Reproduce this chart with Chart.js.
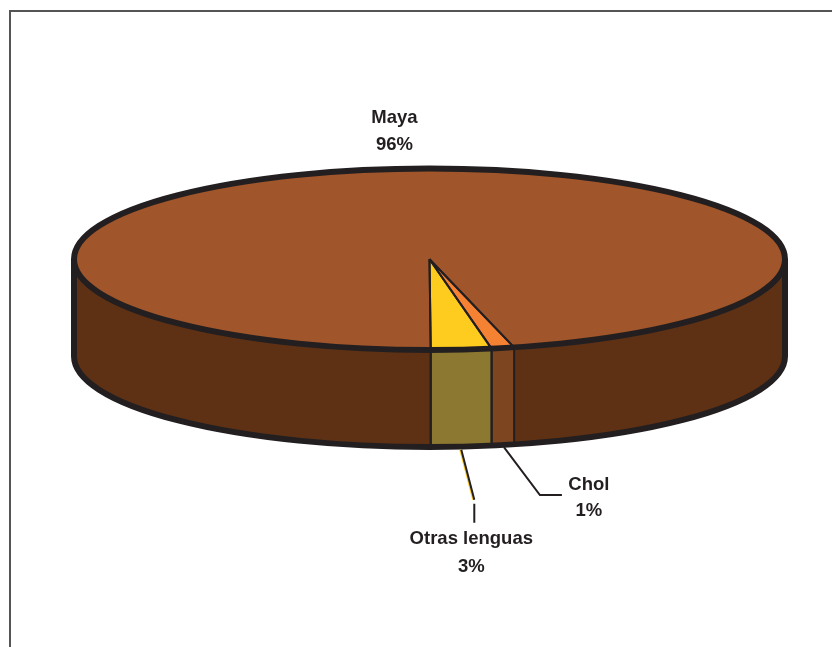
<!DOCTYPE html>
<html>
<head>
<meta charset="utf-8">
<title>Lenguas</title>
<script src="https://cdn.jsdelivr.net/npm/chart.js@4"></script>
<style>
    html, body { margin: 0; padding: 0; background: #fff; overflow: hidden; }
    #wrap { position: relative; width: 832px; height: 647px; }
    #frame { position: absolute; left: 9px; top: 10px; right: 0; bottom: 0; border-left: 2px solid #555; border-top: 2px solid #555; }
    #myChart { position: absolute; left: 0; top: 0; }
</style>
</head>
<body>
<div id="wrap">
    <div id="frame"></div>
    <canvas id="myChart" width="832" height="647"></canvas>
</div>
<script>
// DATA
const categories = ['Maya', 'Chol', 'Otras lenguas'];
const values = [96.23, 1.03, 2.74];
const percentLabels = ['96%', '1%', '3%'];

// COLORS
const topColors = ['#a0552a', '#f58233', '#fdcc1f'];
const wallColors = ['#5e3114', '#7d4520', '#8c7830'];
const lineColor = '#231f20';
const otrasLeaderColor = '#fdcc1f';

// 3D SHAPE
const squash = 90.75 / 355.5;
const depth = 97;

// LABEL PLACEMENT, offsets from the middle of each slice's rim
const labelStyle = [
    { dx: -35, dy: -141, gap: 27 },
    { dx: 86, dy: 40, gap: 26 },
    { dx: 10, dy: 92, gap: 28 }
];

// FUNCTIONS
function wallParts(arc) {
    // only the part of a slice facing the viewer has a wall
    let parts = [];
    for (let k = 0; k < 2; k++) {
        let from = Math.max(arc.startAngle, 2 * Math.PI * k);
        let to = Math.min(arc.endAngle, Math.PI + 2 * Math.PI * k);
        if (to > from) parts.push([from, to]);
    }
    return parts;
}

function rimPoint(arc, angle, ry, drop) {
    return {
        x: arc.x + arc.outerRadius * Math.cos(angle),
        y: arc.y + ry * Math.sin(angle) + drop
    };
}

const pie3d = {
    id: 'pie3d',
    beforeDatasetsDraw(chart) {
        let ctx = chart.ctx;
        let arcs = chart.getDatasetMeta(0).data;
        arcs.forEach((arc, i) => {
            let ry = arc.outerRadius * squash;
            wallParts(arc).forEach(part => {
                ctx.beginPath();
                ctx.ellipse(arc.x, arc.y, arc.outerRadius, ry, 0, part[0], part[1]);
                ctx.ellipse(arc.x, arc.y + depth, arc.outerRadius, ry, 0, part[1], part[0], true);
                ctx.closePath();
                ctx.fillStyle = wallColors[i];
                ctx.fill();
            });
        });
        // flatten the slices the library draws next
        let first = arcs[0];
        ctx.save();
        ctx.translate(first.x, first.y);
        ctx.scale(1, squash);
        ctx.translate(-first.x, -first.y);
    },
    afterDatasetsDraw(chart) {
        let ctx = chart.ctx;
        ctx.restore();
        let arcs = chart.getDatasetMeta(0).data;
        let first = arcs[0];
        let r = first.outerRadius;
        let ry = r * squash;
        ctx.strokeStyle = lineColor;
        ctx.lineCap = 'butt';
        ctx.lineJoin = 'miter';

        // slice edges on top and on the wall
        ctx.lineWidth = 2;
        arcs.forEach(arc => {
            [arc.startAngle, arc.endAngle].forEach(angle => {
                let p = rimPoint(arc, angle, ry, 0);
                ctx.beginPath();
                ctx.moveTo(arc.x, arc.y);
                ctx.lineTo(p.x, p.y);
                let a = ((angle % (2 * Math.PI)) + 2 * Math.PI) % (2 * Math.PI);
                if (a < Math.PI && arc !== first) {
                    ctx.moveTo(p.x, p.y);
                    ctx.lineTo(p.x, p.y + depth);
                }
                ctx.stroke();
            });
        });
        // wall line of the Maya start edge
        let startPoint = rimPoint(first, first.startAngle, ry, 0);
        ctx.beginPath();
        ctx.moveTo(startPoint.x, startPoint.y);
        ctx.lineTo(startPoint.x, startPoint.y + depth);
        ctx.stroke();

        // thick rim
        ctx.lineWidth = 6;
        ctx.beginPath();
        ctx.ellipse(first.x, first.y, r, ry, 0, 0, 2 * Math.PI);
        ctx.stroke();
        ctx.beginPath();
        ctx.moveTo(first.x + r, first.y);
        ctx.lineTo(first.x + r, first.y + depth);
        ctx.ellipse(first.x, first.y + depth, r, ry, 0, 0, Math.PI);
        ctx.lineTo(first.x - r, first.y);
        ctx.stroke();

        // leader lines and labels
        ctx.font = 'bold 18.5px "Liberation Sans"';
        ctx.textBaseline = 'middle';
        ctx.textAlign = 'center';
        ctx.fillStyle = lineColor;
        arcs.forEach((arc, i) => {
            let mid = (arc.startAngle + arc.endAngle) / 2;
            let style = labelStyle[i];
            let x, y;
            if (i === 0) {
                x = arc.x + style.dx;
                y = arc.y + style.dy;
            } else {
                let p = rimPoint(arc, mid, ry, depth);
                x = p.x + style.dx;
                y = p.y + style.dy;
                ctx.lineWidth = 2;
                if (i === 1) {
                    ctx.beginPath();
                    ctx.moveTo(p.x + 1, p.y + 2);
                    ctx.lineTo(p.x + 37, p.y + 50);
                    ctx.lineTo(p.x + 59, p.y + 50);
                    ctx.stroke();
                } else {
                    ctx.beginPath();
                    ctx.strokeStyle = otrasLeaderColor;
                    ctx.moveTo(p.x - 1, p.y + 3);
                    ctx.lineTo(p.x + 12, p.y + 53);
                    ctx.stroke();
                    ctx.strokeStyle = lineColor;
                    ctx.beginPath();
                    ctx.moveTo(p.x, p.y + 3);
                    ctx.lineTo(p.x + 13, p.y + 53);
                    ctx.moveTo(p.x + 13, p.y + 57);
                    ctx.lineTo(p.x + 13, p.y + 76);
                    ctx.stroke();
                }
            }
            ctx.fillText(categories[i], x, y);
            ctx.fillText(percentLabels[i], x, y + style.gap);
        });
    }
};

// DRAWING THE CHART
const ctx = document.getElementById('myChart').getContext('2d');
const myChart = new Chart(ctx, {
    type: 'pie',
    data: {
        labels: categories,
        datasets: [{
            data: values,
            backgroundColor: topColors,
            borderWidth: 0,
            clip: false
        }]
    },
    options: {
        responsive: false,
        animation: false,
        rotation: 179.8,
        radius: 355.5,
        events: [],
        layout: { padding: { left: 27, right: 0, top: 0, bottom: 128.5 } },
        plugins: {
            legend: { display: false },
            tooltip: { enabled: false }
        }
    },
    plugins: [pie3d]
});
</script>
</body>
</html>
